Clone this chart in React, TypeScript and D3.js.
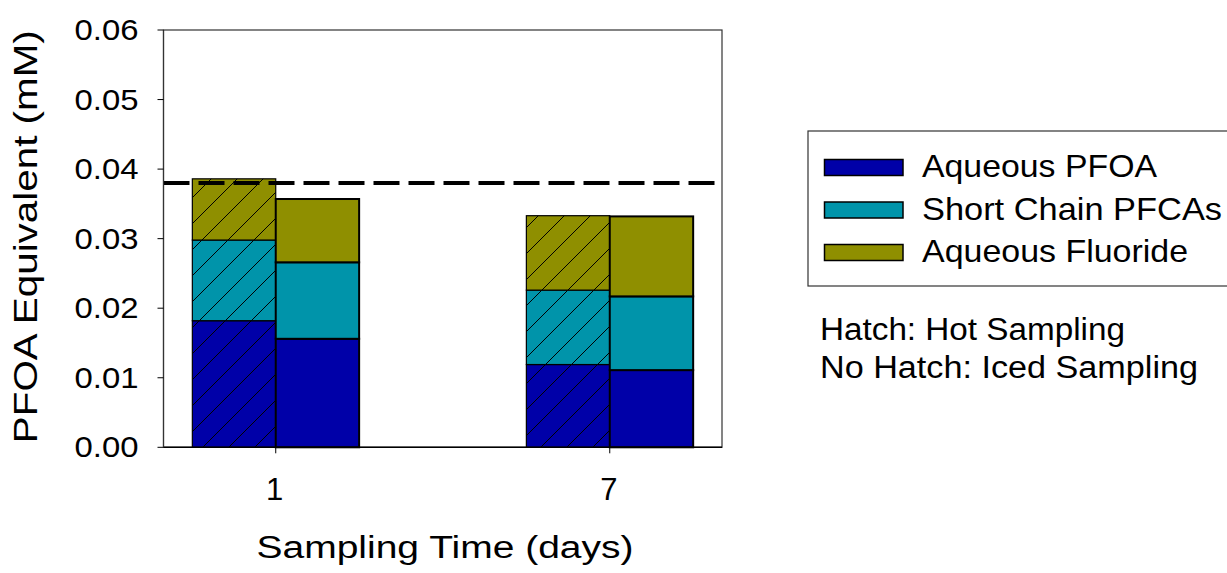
import React from "react";
import * as d3 from "d3";

// Sampling days on the x axis
const categories = ["1", "7"];
// Sampling modes drawn side by side inside each day
const modes = ["Hot", "Iced"];
// Stacked components (mM PFOA equivalent), bottom to top
const seriesNames = ["Aqueous PFOA", "Short Chain PFCAs", "Aqueous Fluoride"];
const seriesColors = ["#0000A8", "#0094AA", "#8F8F00"];

const hotPFOA = [0.0182, 0.0119];
const hotShortChain = [0.0116, 0.0107];
const hotFluoride = [0.0088, 0.0107];

const icedPFOA = [0.0156, 0.0111];
const icedShortChain = [0.011, 0.0106];
const icedFluoride = [0.0091, 0.0115];

// Reference level drawn as a dashed line
const referenceLevel = 0.038;

const yTicks = [0, 0.01, 0.02, 0.03, 0.04, 0.05, 0.06];
const yTickLabels = ["0.00", "0.01", "0.02", "0.03", "0.04", "0.05", "0.06"];

const noteLines = ["Hatch: Hot Sampling", "No Hatch: Iced Sampling"];

const FONT = "'Liberation Sans', Arial, Helvetica, sans-serif";

export default function App() {
  const W = 1227;
  const H = 573;
  const left = 163.5;
  const right = 722;
  const top = 30;
  const bottom = 447.3;

  const x = d3.scalePoint<string>().domain(categories).range([left, right]).padding(0.336);
  const inner = d3.scaleBand<string>().domain(modes).range([-83.4, 83.4]).padding(0);
  const y = d3.scaleLinear().domain([0, 0.06]).range([bottom, top]);

  const rows = categories.map((c, i) => ({
    cat: c,
    Hot: [hotPFOA[i], hotShortChain[i], hotFluoride[i]],
    Iced: [icedPFOA[i], icedShortChain[i], icedFluoride[i]],
  }));

  const stackFor = (mode: "Hot" | "Iced") => {
    const table = rows.map((r) => {
      const o: any = { cat: r.cat };
      seriesNames.forEach((s, k) => (o[s] = r[mode][k]));
      return o;
    });
    return d3.stack<any>().keys(seriesNames)(table);
  };

  const stacks = { Hot: stackFor("Hot"), Iced: stackFor("Iced") };

  const legendX = 808;
  const legendRowBase = [177, 219.5, 262];
  const legendLengths = [235, 300, 266];

  return (
    <svg width={W} height={H} style={{ display: "block", position: "absolute", left: 0, top: 0, background: "#fff" }}>
      <defs>
        <pattern id="hatch" patternUnits="userSpaceOnUse" width={26} height={26}>
          <path d="M0,26 L26,0 M-6.5,6.5 L6.5,-6.5 M19.5,32.5 L32.5,19.5" stroke="#000" strokeWidth={1} />
        </pattern>
      </defs>

      {/* plot frame */}
      <rect x={left} y={top} width={right - left} height={bottom - top} fill="none" stroke="#333" strokeWidth={1.2} />

      {/* stacked bars */}
      {(["Hot", "Iced"] as const).map((mode) =>
        stacks[mode].map((layer, k) =>
          layer.map((d, i) => {
            const bx = (x(categories[i]) as number) + (inner(mode) as number);
            const bw = inner.bandwidth();
            const y0 = y(d[1]);
            const h = y(d[0]) - y(d[1]);
            return (
              <g key={`${mode}-${k}-${i}`}>
                <rect x={bx} y={y0} width={bw} height={h} fill={seriesColors[k]} />
                {mode === "Hot" && <rect x={bx} y={y0} width={bw} height={h} fill="url(#hatch)" />}
                <rect
                  x={bx}
                  y={y0}
                  width={bw}
                  height={h}
                  fill="none"
                  stroke="#000"
                  strokeWidth={mode === "Hot" ? 1.2 : 2}
                />
              </g>
            );
          })
        )
      )}

      {/* reference level */}
      <line
        x1={left}
        x2={right}
        y1={y(referenceLevel)}
        y2={y(referenceLevel)}
        stroke="#000"
        strokeWidth={4}
        strokeDasharray="26 9"
      />

      {/* axes */}
      <line x1={left} x2={right} y1={bottom} y2={bottom} stroke="#000" strokeWidth={1.6} />
      <line x1={left} x2={left} y1={top} y2={bottom} stroke="#333" strokeWidth={1.2} />
      {yTicks.map((t, i) => (
        <g key={t}>
          <line x1={left - 6} x2={left} y1={y(t)} y2={y(t)} stroke="#000" strokeWidth={1} />
          <text
            x={138.5}
            y={y(t) + 10}
            textAnchor="end"
            fontFamily={FONT}
            fontSize={30}
            textLength={64}
            lengthAdjust="spacingAndGlyphs"
            fill="#000"
          >
            {yTickLabels[i]}
          </text>
        </g>
      ))}
      {categories.map((c) => (
        <g key={c}>
          <line x1={x(c)} x2={x(c)} y1={bottom} y2={bottom + 6} stroke="#000" strokeWidth={1} />
          <text x={(x(c) as number) - 1} y={500} textAnchor="middle" fontFamily={FONT} fontSize={31} fill="#000">
            {c}
          </text>
        </g>
      ))}

      {/* axis titles */}
      <text
        x={445}
        y={558}
        textAnchor="middle"
        fontFamily={FONT}
        fontSize={31}
        textLength={377}
        lengthAdjust="spacingAndGlyphs"
        fill="#000"
      >
        Sampling Time (days)
      </text>
      <text
        transform={`translate(37,236.7) rotate(-90)`}
        textAnchor="middle"
        fontFamily={FONT}
        fontSize={33}
        textLength={413}
        lengthAdjust="spacingAndGlyphs"
        fill="#000"
      >
        PFOA Equivalent (mM)
      </text>

      {/* legend */}
      <rect x={legendX} y={131} width={440} height={155} fill="#fff" stroke="#333" strokeWidth={1.2} />
      {seriesNames.map((s, k) => (
        <g key={s}>
          <rect
            x={824.5}
            y={legendRowBase[k] - 17.5}
            width={78.5}
            height={16}
            fill={seriesColors[k]}
            stroke="#000"
            strokeWidth={1.5}
          />
          <text
            x={922}
            y={legendRowBase[k]}
            fontFamily={FONT}
            fontSize={32}
            textLength={legendLengths[k]}
            lengthAdjust="spacingAndGlyphs"
            fill="#000"
          >
            {s}
          </text>
        </g>
      ))}

      {/* hatch note */}
      {noteLines.map((t, i) => (
        <text
          key={t}
          x={820}
          y={340 + i * 37.7}
          fontFamily={FONT}
          fontSize={31}
          textLength={i === 0 ? 305 : 378}
          lengthAdjust="spacingAndGlyphs"
          fill="#000"
        >
          {t}
        </text>
      ))}
    </svg>
  );
}
